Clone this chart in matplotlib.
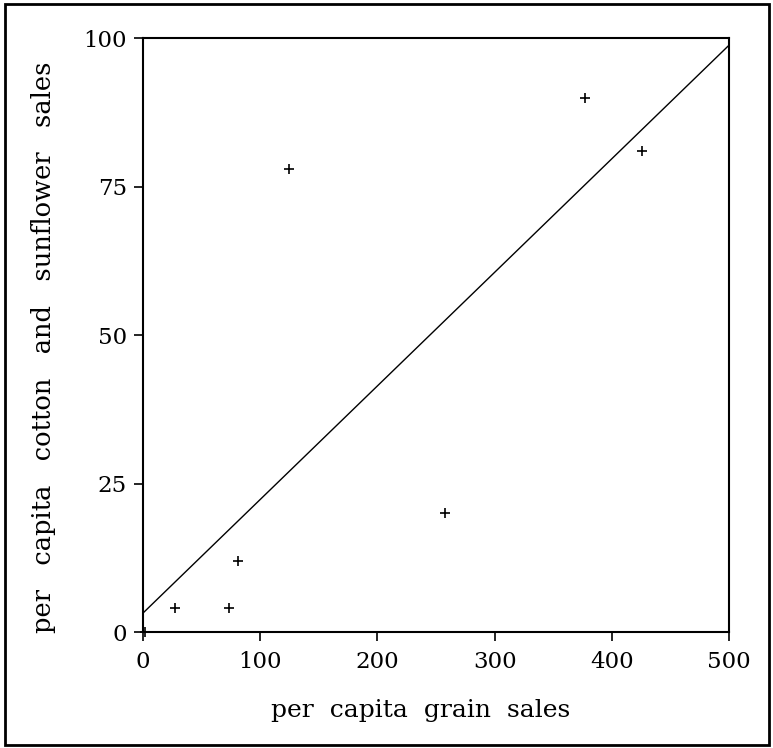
import matplotlib
matplotlib.use("Agg")
import matplotlib.pyplot as plt
import numpy as np

# data
grain_sales = [2, 27, 73, 81, 125, 258, 377, 426]
cotton_sales = [0, 4, 4, 12, 78, 20, 90, 81]

# fitted line (intercept, slope)
fit_intercept = 3.2
fit_slope = 0.1912

x_ticks = [0, 100, 200, 300, 400, 500]
y_ticks = [0, 25, 50, 75, 100]

plt.rcParams['font.family'] = ['DejaVu Serif']

fig = plt.figure(figsize=(7.73, 7.48), dpi=100)

# outer border around the whole picture
fig.patches.append(plt.Rectangle((0.007, 0.004), 0.988, 0.99, transform=fig.transFigure,
                                 fill=False, edgecolor='black', linewidth=2))

ax = fig.add_axes([0.185, 0.155, 0.758, 0.794])

ax.plot(grain_sales, cotton_sales, linestyle='none', marker='+', color='black',
        markersize=6.5, markeredgewidth=1.2, clip_on=False, zorder=5)

fx = np.array([0, 500])
ax.plot(fx, fit_intercept + fit_slope * fx, color='black', linewidth=1)

ax.set_xlim(0, 500)
ax.set_ylim(0, 100)
ax.set_xticks(x_ticks)
ax.set_yticks(y_ticks)
ax.tick_params(direction='out', length=6.5, width=1.2, labelsize=16.5)
ax.tick_params(axis='x', pad=7)
ax.tick_params(axis='y', pad=5)

for s in ax.spines.values():
    s.set_linewidth(1.5)

ax.set_xlabel('per  capita  grain  sales', fontsize=18, labelpad=19)
ax.set_ylabel('per   capita   cotton   and   sunflower   sales', fontsize=18.5, labelpad=20)
ax.xaxis.label.set_x(0.474)
ax.yaxis.label.set_y(0.48)

fig.savefig('out.png', dpi=100)
